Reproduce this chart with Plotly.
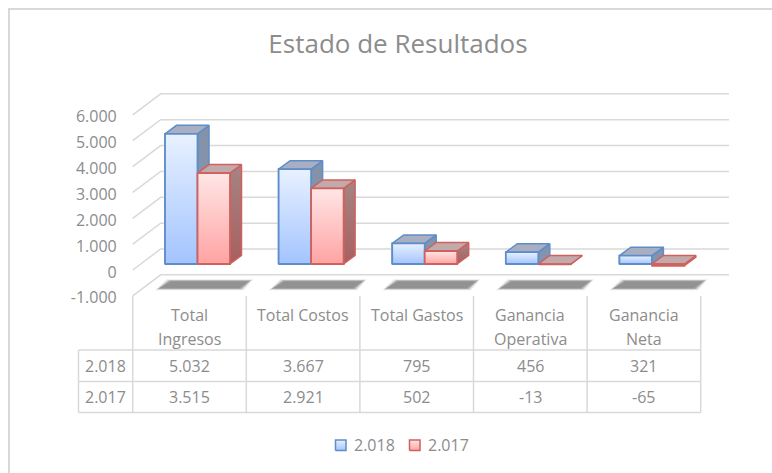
import plotly.graph_objects as go

categories = [["Total", "Ingresos"], ["Total Costos"], ["Total Gastos"], ["Ganancia", "Operativa"], ["Ganancia", "Neta"]]
series_names = ["2.018", "2.017"]
values_2018 = [5032, 3667, 795, 456, 321]
values_2017 = [3515, 2921, 502, -13, -65]
y_ticks = [-1000, 0, 1000, 2000, 3000, 4000, 5000, 6000]
y_tick_labels = ["-1.000", "0", "1.000", "2.000", "3.000", "4.000", "5.000", "6.000"]
title_text = "Estado de Resultados"

W, H = 772, 473
FONT = "Open Sans"
TXT = "#8c8c8c"
GRID = "#d9d9d9"

# pixel <-> data scale of the chart
CAT_PX = 113.6      # width of a category
X0_PX = 132.7       # left of category 0
K_PX = 25.86 / 1000 # px per value unit
Y0_PX = 270.0       # value 0 on the front plane

xr = [(0 - X0_PX) / CAT_PX, (W - X0_PX) / CAT_PX]
yr = [(Y0_PX - H) / K_PX, Y0_PX / K_PX]


def dx(px):
    return px / CAT_PX


def dy(px):
    return px / K_PX


def yp(px):
    return (Y0_PX - px) / K_PX


def xp(px):
    return (px - X0_PX) / CAT_PX


fig = go.Figure()


def poly(xs, ys, fill=None, line=None, lw=0.0, grad=None):
    kw = dict(
        x=list(xs) + [xs[0]], y=list(ys) + [ys[0]], mode="lines", fill="toself",
        hoverinfo="skip", showlegend=False,
        line=dict(color=line or "rgba(0,0,0,0)", width=lw),
    )
    if grad:
        kw["fillgradient"] = dict(type="vertical", colorscale=[[0, grad[0]], [1, grad[1]]])
    else:
        kw["fillcolor"] = fill
    fig.add_trace(go.Scatter(**kw))


def line(xs, ys, color=GRID, w=1.5):
    fig.add_trace(go.Scatter(x=xs, y=ys, mode="lines", hoverinfo="skip", showlegend=False,
                             line=dict(color=color, width=w)))


# ---- bars; the gradient faces sit on top of them
DEPTH_BAR = 0.286
BASE = dy(21 * DEPTH_BAR)
OFFS = dx(28 * DEPTH_BAR)
BAR_W = 0.286
centers = [i + 0.5 + OFFS for i in range(len(categories))]
x_blue = [c - BAR_W / 2 for c in centers]
x_red = [c + BAR_W / 2 for c in centers]

BLUE = dict(line="#5f8dca", mid="#c3d9ff", grad=("#a3c4ff", "#e8f1ff"), top="#a9afc2", side=("#7f96b4", "#8492a8"))
RED = dict(line="#cf615e", mid="#ffc8c8", grad=("#ffa3a3", "#ffe6e6"), top="#c2aaaa", side=("#a8605e", "#a58483"))

for name, xs, vals, st in [(series_names[0], x_blue, values_2018, BLUE),
                           (series_names[1], x_red, values_2017, RED)]:
    fig.add_trace(go.Bar(name=name, x=xs, y=vals, base=[BASE] * len(vals), width=BAR_W,
                         marker=dict(color=st["mid"], line=dict(color=st["line"], width=1.5))))

# ---- chart frame (only top and left are visible)
line([xp(9), xp(9), xr[1]], [yr[0], yp(9), yp(9)], w=2)

# ---- back wall grid, left wall diagonals
BACK_X, BACK_Y = dx(28), dy(21)
for t in y_ticks:
    line([0, BACK_X, xp(729)], [t, t + BACK_Y, t + BACK_Y])

# ---- blurred floor shadows
for i in range(len(categories)):
    c = i
    for grow, col in [(3.5, "rgba(185,185,185,0.3)"), (2.0, "rgba(165,165,165,0.45)"),
                      (0.8, "rgba(150,150,150,0.6)"), (-0.5, "rgba(140,140,140,0.8)")]:
        xs = [c + dx(26 - grow), c + dx(37.5 - grow), c + dx(117 + grow), c + dx(107.5 + grow)]
        ys = [yp(288.5 + grow / 2), yp(281 - grow / 2), yp(281 - grow / 2), yp(288.5 + grow / 2)]
        poly(xs, ys, fill=col)

# ---- 3D bars: back faces first, blue then red
FX, FY = dx(11.5), dy(8.5)
for xs, vals, st in [(x_blue, values_2018, BLUE), (x_red, values_2017, RED)]:
    for x, v in zip(xs, vals):
        lo, hi = min(v, 0) + BASE, max(v, 0) + BASE
        l, r = x - BAR_W / 2, x + BAR_W / 2
        poly([r, r + FX, r + FX, r], [lo, lo + FY, hi + FY, hi], grad=st["side"], line=st["line"], lw=1.5)
        poly([l, l + FX, r + FX, r], [hi, hi + FY, hi + FY, hi], fill=st["top"], line=st["line"], lw=1.5)
        poly([l, r, r, l], [lo, lo, hi, hi], grad=st["grad"], line=st["line"], lw=1.8)

# ---- data table
row_2018, row_2017, row_end = yp(350), yp(381.5), yp(412.5)
table_top = yp(296)
left = xp(78.5)
n = len(categories)
for yy in (row_2018, row_2017, row_end):
    line([left, n], [yy, yy])
for i in range(n + 1):
    line([i, i], [table_top, row_end])
line([left, left], [row_2018, row_end])


def fmt(v):
    s = f"{abs(v):,}".replace(",", ".")
    return ("-" if v < 0 else "") + s


ann = []


def label(x, y, text, size=16, anchor="center"):
    ann.append(dict(x=x, y=y, xref="x", yref="y", text=text, showarrow=False,
                    xanchor=anchor, yanchor="middle", font=dict(family=FONT, size=size, color=TXT)))


for i, c in enumerate(categories):
    for j, part in enumerate(c):
        label(i + 0.5, yp(315 + 24 * j), part)
    label(i + 0.5, yp(366), fmt(values_2018[i]))
    label(i + 0.5, yp(397), fmt(values_2017[i]))
label(xp(105.5), yp(365.5), series_names[0])
label(xp(105.5), yp(396.5), series_names[1])

# ---- legend
for name, start, st in [(series_names[0], 335, BLUE), (series_names[1], 409, RED)]:
    sx0, sx1 = xp(start + 0.5), xp(start + 11)
    sy0, sy1 = yp(450.5), yp(440)
    poly([sx0, sx1, sx1, sx0], [sy0, sy0, sy1, sy1], grad=st["grad"], line=st["line"], lw=1.5)
    label(xp(start + 17), yp(445), name, anchor="left")

fig.update_layout(
    width=W, height=H, margin=dict(l=0, r=0, t=0, b=0),
    paper_bgcolor="white", plot_bgcolor="white", barmode="overlay",
    annotations=ann, showlegend=False,
    title=dict(text=title_text, x=398 / W, xanchor="center", y=1 - 44 / H, yanchor="middle",
               font=dict(family=FONT, size=26, color="#8c8c8c")),
    xaxis=dict(range=xr, visible=False, fixedrange=True),
    yaxis=dict(range=yr, anchor="free", position=X0_PX / W, side="left", fixedrange=True,
               tickmode="array", tickvals=y_ticks, ticktext=y_tick_labels,
               showgrid=False, zeroline=False, showline=False, ticks="",
               ticklabelstandoff=16, ticklabelshift=2, tickfont=dict(family=FONT, size=16, color=TXT)),
)

fig.write_html("out.html", config={"displayModeBar": False},
               post_script="document.body.style.margin='0';document.documentElement.style.overflow='hidden';")
